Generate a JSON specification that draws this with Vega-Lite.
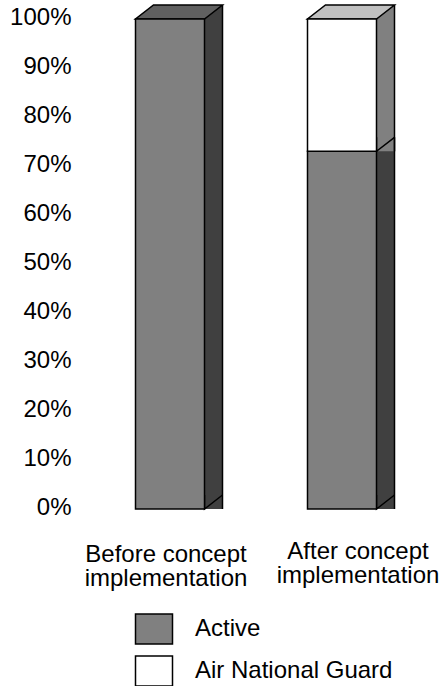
{
  "$schema": "https://vega.github.io/schema/vega-lite/v6.json",
  "width": 344,
  "height": 490,
  "autosize": {"type": "none"},
  "padding": {"left": 84, "top": 19, "right": 15, "bottom": 177},
  "background": "white",
  "config": {"font": "Liberation Sans", "view": {"stroke": null}},
  "data": {
    "values": [
      {"stage": "Before concept implementation", "type": "Active", "value": 100},
      {"stage": "After concept implementation", "type": "Active", "value": 73},
      {"stage": "After concept implementation", "type": "Air National Guard", "value": 27}
    ]
  },
  "transform": [
    {"stack": "value", "groupby": ["stage"], "sort": [{"field": "type", "order": "ascending"}], "as": ["v0", "v1"]},
    {"joinaggregate": [{"op": "max", "field": "v1", "as": "top"}], "groupby": ["stage"]}
  ],
  "encoding": {
    "x": {
      "field": "stage",
      "type": "nominal",
      "sort": ["Before concept implementation", "After concept implementation"],
      "scale": {"paddingInner": 0, "paddingOuter": 0},
      "axis": {
        "title": null,
        "domain": false,
        "ticks": false,
        "tickSize": 0,
        "labelAngle": 0,
        "labelFont": "Liberation Sans",
        "labelFontSize": 24,
        "labelColor": "black",
        "labelBaseline": "top",
        "labelLineHeight": 24,
        "labelLimit": 0,
        "labelPadding": {"condition": {"test": "indexof(datum.value, 'After') === 0", "value": 30}, "value": 33},
        "labelOffset": {"condition": {"test": "indexof(datum.value, 'After') === 0", "value": 16}, "value": -4},
        "labelExpr": "[replace(datum.label, ' implementation', ''), 'implementation']"
      }
    }
  },
  "layer": [
    {
      "mark": {"type": "bar", "width": 18, "xOffset": 43.5, "yOffset": -14, "strokeWidth": 0},
      "encoding": {
        "y": {
          "field": "v1",
          "type": "quantitative",
          "scale": {"domain": [0, 100]},
          "axis": {
            "title": null,
            "domain": false,
            "ticks": false,
            "tickSize": 0,
            "grid": false,
            "values": [0, 10, 20, 30, 40, 50, 60, 70, 80, 90, 100],
            "labelExpr": "datum.value + '%'",
            "labelFont": "Liberation Sans",
            "labelFontSize": 24,
            "labelColor": "black",
            "labelPadding": 13,
            "labelOffset": -2
          }
        },
        "y2": {"field": "v0"},
        "fill": {"condition": {"test": "datum.type === 'Active'", "value": "#404040"}, "value": "#808080"}
      }
    },
    {
      "mark": {"type": "point", "shape": "M52.5,-14L34.5,0L34.5,-14", "size": 4, "filled": true, "opacity": 1, "stroke": "black", "strokeWidth": 1.5, "strokeOpacity": 1, "fillOpacity": 1},
      "encoding": {
        "y": {"field": "v0", "type": "quantitative", "title": null},
        "fill": {"condition": {"test": "datum.type === 'Active'", "value": "#404040"}, "value": "#808080"}
      }
    },
    {
      "mark": {"type": "rule", "xOffset": 52.5, "yOffset": -14, "stroke": "black", "strokeWidth": 1.5},
      "encoding": {
        "y": {"field": "v1", "type": "quantitative", "title": null},
        "y2": {"field": "v0"}
      }
    },
    {
      "transform": [{"filter": "datum.v1 === datum.top"}],
      "mark": {"type": "point", "shape": "M-34.5,0L34.5,0L52.5,-14L-16.5,-14Z", "size": 4, "filled": true, "opacity": 1, "stroke": "black", "strokeWidth": 1.5, "strokeOpacity": 1, "fillOpacity": 1},
      "encoding": {
        "y": {"field": "v1", "type": "quantitative", "title": null},
        "fill": {"condition": {"test": "datum.type === 'Active'", "value": "#606060"}, "value": "#c0c0c0"}
      }
    },
    {
      "mark": {"type": "bar", "width": 69, "stroke": "black", "strokeWidth": 1.5, "opacity": 1},
      "encoding": {
        "y": {"field": "v1", "type": "quantitative", "title": null},
        "y2": {"field": "v0"},
        "color": {
          "field": "type",
          "type": "nominal",
          "scale": {"domain": ["Active", "Air National Guard"], "range": ["#808080", "#ffffff"]},
          "legend": {
            "title": null,
            "orient": "none",
            "legendX": 58,
            "legendY": 598,
            "symbolType": "M-18.5,-15H18.5V15H-18.5Z",
            "symbolSize": 4,
            "symbolStrokeColor": "black",
            "symbolStrokeWidth": 1.5,
            "symbolOpacity": 1,
            "labelFont": "Liberation Sans",
            "labelFontSize": 24,
            "labelColor": "black",
            "labelOffset": 29,
            "labelLimit": 0,
            "rowPadding": 6
          }
        }
      }
    }
  ]
}
